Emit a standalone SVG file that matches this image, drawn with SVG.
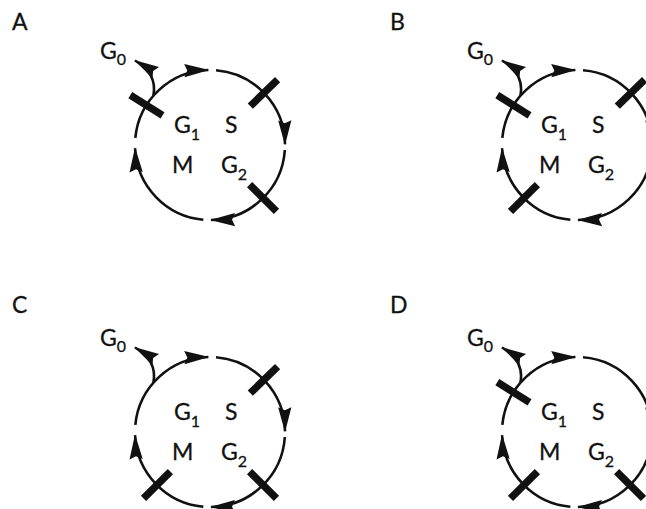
<svg xmlns="http://www.w3.org/2000/svg" xmlns:xlink="http://www.w3.org/1999/xlink" width="646" height="509" viewBox="0 0 646 509">
<style>
  .lbl { font-family: Lato, "Open Sans", "Liberation Sans", sans-serif; font-size: 23px; fill: #111; stroke: #111; stroke-width: 0.3; }
  .sub { font-size: 16px; }
  .arc { fill: none; stroke: #111; stroke-width: 2.6; marker-end: url(#ah); }
  .bar { fill: #111; }
</style>
<defs>
  <marker id="ah" markerUnits="userSpaceOnUse" markerWidth="40" markerHeight="20" refX="30" refY="10" orient="auto">
    <path d="M31,10 L6,3.4 L9,10 L6,16.6 Z" fill="#111"/>
  </marker>
  <rect id="bar" x="-19" y="-3.7" width="38" height="7.4"/>
</defs>
<rect width="646" height="509" fill="#fff"/>

<g id="panel-letters" class="lbl">
  <text id="label-A" x="12" y="30">A</text>
  <text id="label-B" x="390" y="30">B</text>
  <text id="label-C" x="12" y="313">C</text>
  <text id="label-D" x="390" y="313">D</text>
</g>

<!-- Panel A -->
<g id="panelA">
  <g id="A-connectors">
    <path class="arc" d="M135.33,137.94 A75,75 0 0 1 208.30,70.02"/>
    <path class="arc" d="M216.02,70.24 A75,75 0 0 1 285.00,144.35"/>
    <path class="arc" d="M284.84,149.97 A75,75 0 0 1 211.05,219.99"/>
    <path class="arc" d="M203.33,219.70 A75,75 0 0 1 135.07,148.27"/>
    <path class="arc" d="M153.4,95.8 C155.5,85 153,71 135,60.5"/>
  </g>
  <g id="A-checkpoints" class="bar">
    <use xlink:href="#bar" transform="translate(210,145) rotate(212) translate(75,0)"/>
    <use xlink:href="#bar" transform="translate(210,145) rotate(316) translate(75,0)"/>
    <use xlink:href="#bar" transform="translate(210,145) rotate(45) translate(75,0)"/>
  </g>
  <g id="A-G0"><text class="lbl" x="100" y="58.5">G<tspan class="sub" dy="6.5">0</tspan></text></g>
  <g id="A-G1"><text class="lbl" x="174" y="132.5">G<tspan class="sub" dy="7">1</tspan></text></g>
  <g id="A-S"><text class="lbl" x="225" y="132.5">S</text></g>
  <g id="A-M"><text class="lbl" x="172" y="173">M</text></g>
  <g id="A-G2"><text class="lbl" x="221" y="173">G<tspan class="sub" dy="7">2</tspan></text></g>
</g>

<!-- Panel B -->
<g id="panelB" transform="translate(367,0)">
  <g id="B-connectors">
    <path class="arc" d="M135.33,137.94 A75,75 0 0 1 208.30,70.02"/>
    <path class="arc" d="M216.02,70.24 A75,75 0 0 1 285.00,144.35"/>
    <path class="arc" d="M284.84,149.97 A75,75 0 0 1 211.05,219.99"/>
    <path class="arc" d="M203.33,219.70 A75,75 0 0 1 135.07,148.27"/>
    <path class="arc" d="M153.4,95.8 C155.5,85 153,71 135,60.5"/>
  </g>
  <g id="B-checkpoints" class="bar">
    <use xlink:href="#bar" transform="translate(210,145) rotate(212) translate(75,0)"/>
    <use xlink:href="#bar" transform="translate(210,145) rotate(316) translate(75,0)"/>
    <use xlink:href="#bar" transform="translate(210,145) rotate(135) translate(75,0)"/>
  </g>
  <g id="B-G0"><text class="lbl" x="100" y="58.5">G<tspan class="sub" dy="6.5">0</tspan></text></g>
  <g id="B-G1"><text class="lbl" x="174" y="132.5">G<tspan class="sub" dy="7">1</tspan></text></g>
  <g id="B-S"><text class="lbl" x="225" y="132.5">S</text></g>
  <g id="B-M"><text class="lbl" x="172" y="173">M</text></g>
  <g id="B-G2"><text class="lbl" x="221" y="173">G<tspan class="sub" dy="7">2</tspan></text></g>
</g>

<!-- Panel C -->
<g id="panelC" transform="translate(0,287)">
  <g id="C-connectors">
    <path class="arc" d="M135.33,137.94 A75,75 0 0 1 208.30,70.02"/>
    <path class="arc" d="M216.02,70.24 A75,75 0 0 1 285.00,144.35"/>
    <path class="arc" d="M284.84,149.97 A75,75 0 0 1 211.05,219.99"/>
    <path class="arc" d="M203.33,219.70 A75,75 0 0 1 135.07,148.27"/>
    <path class="arc" d="M153.4,95.8 C155.5,85 153,71 135,60.5"/>
  </g>
  <g id="C-checkpoints" class="bar">
    <use xlink:href="#bar" transform="translate(210,145) rotate(316) translate(75,0)"/>
    <use xlink:href="#bar" transform="translate(210,145) rotate(45) translate(75,0)"/>
    <use xlink:href="#bar" transform="translate(210,145) rotate(135) translate(75,0)"/>
  </g>
  <g id="C-G0"><text class="lbl" x="100" y="58.5">G<tspan class="sub" dy="6.5">0</tspan></text></g>
  <g id="C-G1"><text class="lbl" x="174" y="132.5">G<tspan class="sub" dy="7">1</tspan></text></g>
  <g id="C-S"><text class="lbl" x="225" y="132.5">S</text></g>
  <g id="C-M"><text class="lbl" x="172" y="173">M</text></g>
  <g id="C-G2"><text class="lbl" x="221" y="173">G<tspan class="sub" dy="7">2</tspan></text></g>
</g>

<!-- Panel D -->
<g id="panelD" transform="translate(367,287)">
  <g id="D-connectors">
    <path class="arc" d="M135.33,137.94 A75,75 0 0 1 208.30,70.02"/>
    <path class="arc" d="M216.02,70.24 A75,75 0 0 1 285.00,144.35"/>
    <path class="arc" d="M284.84,149.97 A75,75 0 0 1 211.05,219.99"/>
    <path class="arc" d="M203.33,219.70 A75,75 0 0 1 135.07,148.27"/>
    <path class="arc" d="M153.4,95.8 C155.5,85 153,71 135,60.5"/>
  </g>
  <g id="D-checkpoints" class="bar">
    <use xlink:href="#bar" transform="translate(210,145) rotate(212) translate(75,0)"/>
    <use xlink:href="#bar" transform="translate(210,145) rotate(45) translate(75,0)"/>
    <use xlink:href="#bar" transform="translate(210,145) rotate(135) translate(75,0)"/>
  </g>
  <g id="D-G0"><text class="lbl" x="100" y="58.5">G<tspan class="sub" dy="6.5">0</tspan></text></g>
  <g id="D-G1"><text class="lbl" x="174" y="132.5">G<tspan class="sub" dy="7">1</tspan></text></g>
  <g id="D-S"><text class="lbl" x="225" y="132.5">S</text></g>
  <g id="D-M"><text class="lbl" x="172" y="173">M</text></g>
  <g id="D-G2"><text class="lbl" x="221" y="173">G<tspan class="sub" dy="7">2</tspan></text></g>
</g>
</svg>
